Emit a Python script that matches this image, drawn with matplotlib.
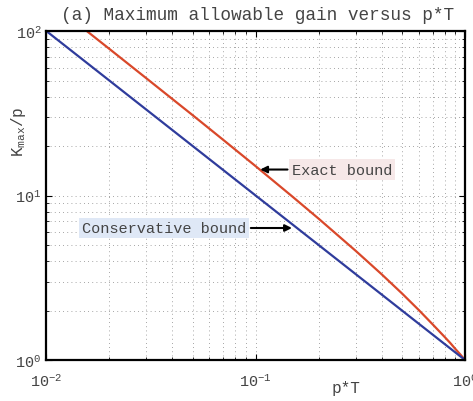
import matplotlib
matplotlib.use("Agg")
import matplotlib.pyplot as plt

plt.rcParams['font.family'] = ['Liberation Mono', 'DejaVu Sans Mono']
plt.rcParams['mathtext.fontset'] = 'custom'
plt.rcParams['mathtext.rm'] = 'Liberation Mono'
plt.rcParams['mathtext.it'] = 'Liberation Mono'

# Data
pT_conservative = [0.01, 1.0]
K_conservative = [100.0, 1.0]

pT_exact = [0.0155, 0.02, 0.03, 0.05, 0.07, 0.1, 0.15, 0.2, 0.3, 0.4,
            0.5, 0.6, 0.7, 0.8, 0.85, 0.9, 0.95, 0.98, 1.0]
K_exact = [100.7, 77.9, 51.7, 30.8, 21.8, 15.08, 9.84, 7.23, 4.62, 3.32,
           2.54, 2.02, 1.65, 1.38, 1.27, 1.167, 1.081, 1.031, 1.0]

title = "(a) Maximum allowable gain versus p*T"

fig = plt.figure(figsize=(4.73, 4.02), dpi=100)
ax = fig.add_axes([0.0983, 0.102, 0.8847, 0.818])

ax.plot(pT_exact, K_exact, color='#d9482a', lw=1.6)
ax.plot(pT_conservative, K_conservative, color='#2f3c9c', lw=1.6)

ax.set_xscale('log')
ax.set_yscale('log')
ax.set_xlim(1e-2, 1e0)
ax.set_ylim(1e0, 1e2)

ax.grid(True, which='both', linestyle=(0, (1, 4)), color='#888888', lw=0.6)
ax.tick_params(which='both', direction='in', top=True, right=True,
               labelsize=11, colors='black', labelcolor='#444444')
ax.tick_params(axis='x', which='major', pad=9)
ax.tick_params(which='major', length=4)
ax.tick_params(which='minor', length=2)
for s in ax.spines.values():
    s.set_linewidth(1.6)

ax.annotate('Exact bound', xy=(0.105, 14.4), xytext=(0.149, 14.4),
            fontsize=11, color='#444444', va='center', ha='left',
            bbox=dict(boxstyle='square,pad=0.2', fc='#f6e8e8', ec='none'),
            arrowprops=dict(arrowstyle='-|>', color='black', lw=1.5,
                            mutation_scale=10, shrinkA=1, shrinkB=0))
ax.annotate('Conservative bound', xy=(0.149, 6.35), xytext=(0.0148, 6.35),
            fontsize=11, color='#444444', va='center', ha='left',
            bbox=dict(boxstyle='square,pad=0.2', fc='#dfe8f6', ec='none'),
            arrowprops=dict(arrowstyle='-|>', color='black', lw=1.5,
                            mutation_scale=10, shrinkA=1, shrinkB=0))

fig.text(0.545, 0.962, title, ha='center', va='center', fontsize=12.8, color='#444444')
fig.text(0.731, 0.033, 'p*T', ha='center', va='center', fontsize=11.5, color='#444444')
fig.text(0.04, 0.672, r'K$_{\mathrm{max}}$/p', ha='center', va='center',
         rotation=90, fontsize=11.5, color='#444444')

fig.savefig('out.png', dpi=100)
